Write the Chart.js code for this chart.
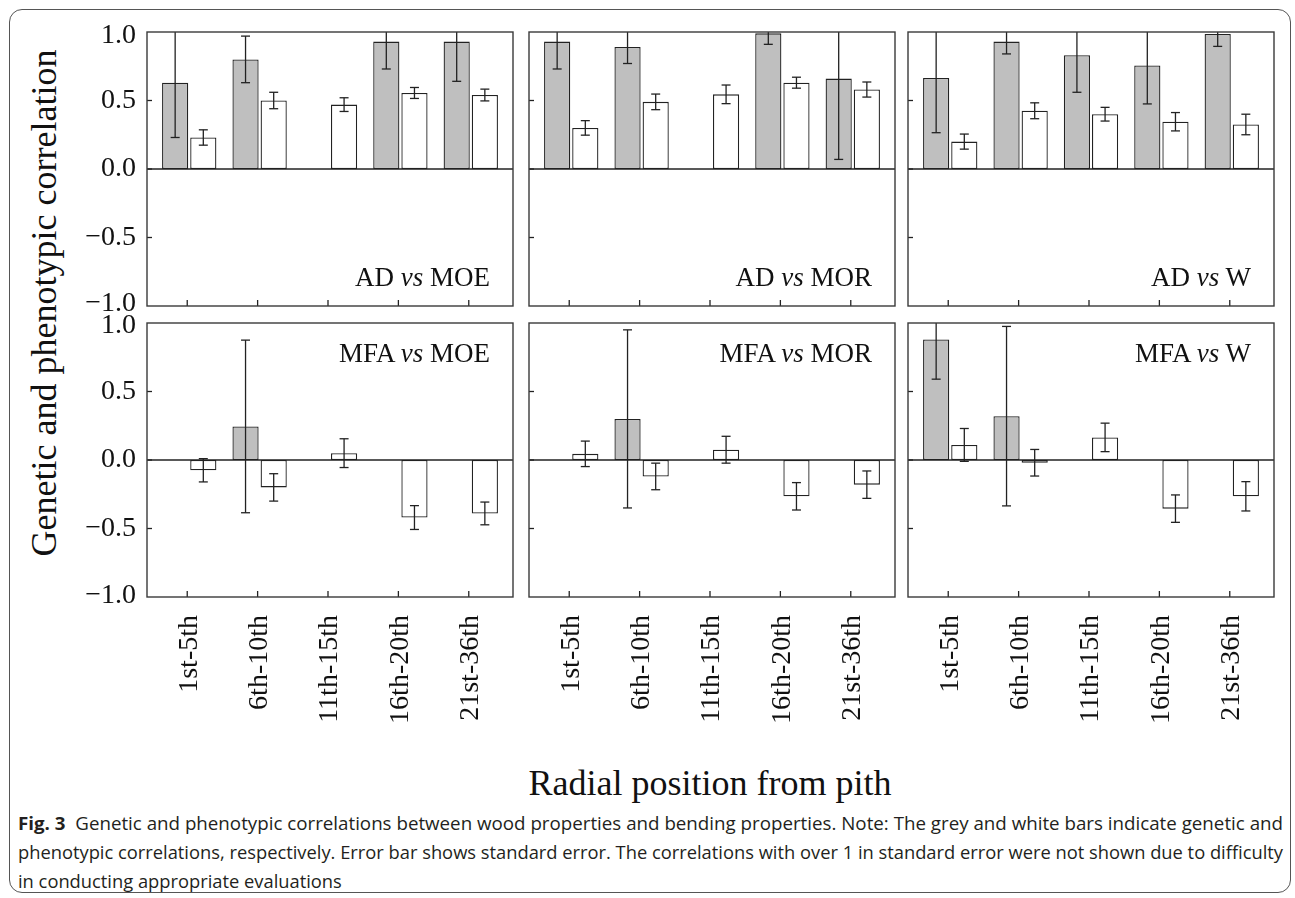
<!DOCTYPE html>
<html>
<head>
<meta charset="utf-8">
<script src="https://cdn.jsdelivr.net/npm/chart.js@4.4.0/dist/chart.umd.min.js"></script>
<style>
html, body { margin: 0; padding: 0; background: #fff; }
#page { position: relative; width: 1295px; height: 898px; overflow: hidden; }
#frame { position: absolute; left: 9px; top: 9px; width: 1280px; height: 882px; border: 1.5px solid #555; border-radius: 13px; }
canvas { position: absolute; }
.serif { position: absolute; font-family: 'Liberation Serif', 'Times New Roman', serif; color: #111; white-space: nowrap; line-height: 1; }
.lab { font-size: 27px; }
#ytitle { font-size: 36px; left: 44px; top: 303px; transform: translate(-50%, -50%) rotate(-90deg); }
#xtitle { font-size: 36px; left: 710px; top: 765px; transform: translateX(-50%); }
.cap { position: absolute; left: 18px; font-family: 'Open Sans', 'Liberation Sans', sans-serif; font-size: 18.5px; line-height: 29px; color: #231f20; white-space: nowrap; transform-origin: left center; }
</style>
</head>
<body>
<div id="page">
  <div id="frame"></div>
  <div id="ytitle" class="serif">Genetic and phenotypic correlation</div>
  <div id="xtitle" class="serif">Radial position from pith</div>
  <div class="cap" id="cap1" style="top:808px"><b>Fig. 3</b>&nbsp; Genetic and phenotypic correlations between wood properties and bending properties. Note: The grey and white bars indicate genetic and</div>
  <div class="cap" id="cap2" style="top:837px">phenotypic correlations, respectively. Error bar shows standard error. The correlations with over 1 in standard error were not shown due to difficulty</div>
  <div class="cap" id="cap3" style="top:866px">in conducting appropriate evaluations</div>
</div>
<script>
// ── Data ──────────────────────────────────────────────────────────
const CATEGORIES = ['1st-5th', '6th-10th', '11th-15th', '16th-20th', '21st-36th'];
const Y_TICKS = [-1.0, -0.5, 0.0, 0.5, 1.0];
const PANEL_LABELS = [['AD', 'MOE'], ['AD', 'MOR'], ['AD', 'W'], ['MFA', 'MOE'], ['MFA', 'MOR'], ['MFA', 'W']];

// grey bars = genetic, white bars = phenotypic; *_SE = standard error
const AD_MOE_GEN    = [0.63, 0.80, null, 0.93, 0.93];
const AD_MOE_GEN_SE = [0.40, 0.17, null, 0.20, 0.29];
const AD_MOE_PHE    = [0.23, 0.50, 0.47, 0.555, 0.54];
const AD_MOE_PHE_SE = [0.056, 0.06, 0.05, 0.04, 0.043];

const AD_MOR_GEN    = [0.93, 0.89, null, 0.99, 0.66];
const AD_MOR_GEN_SE = [0.20, 0.12, null, 0.08, 0.59];
const AD_MOR_PHE    = [0.30, 0.49, 0.545, 0.63, 0.58];
const AD_MOR_PHE_SE = [0.053, 0.057, 0.068, 0.04, 0.055];

const AD_W_GEN    = [0.665, 0.93, 0.83, 0.755, 0.985];
const AD_W_GEN_SE = [0.40, 0.09, 0.27, 0.28, 0.09];
const AD_W_PHE    = [0.20, 0.425, 0.40, 0.345, 0.325];
const AD_W_PHE_SE = [0.055, 0.058, 0.05, 0.067, 0.075];

const MFA_MOE_GEN    = [null, 0.245, null, null, null];
const MFA_MOE_GEN_SE = [null, 0.63, null, null, null];
const MFA_MOE_PHE    = [-0.075, -0.20, 0.05, -0.42, -0.39];
const MFA_MOE_PHE_SE = [0.085, 0.10, 0.105, 0.087, 0.083];

const MFA_MOR_GEN    = [null, 0.30, null, null, null];
const MFA_MOR_GEN_SE = [null, 0.65, null, null, null];
const MFA_MOR_PHE    = [0.045, -0.12, 0.075, -0.265, -0.18];
const MFA_MOR_PHE_SE = [0.093, 0.097, 0.098, 0.10, 0.10];

const MFA_W_GEN    = [0.88, 0.32, null, null, null];
const MFA_W_GEN_SE = [0.29, 0.655, null, null, null];
const MFA_W_PHE    = [0.11, -0.02, 0.165, -0.355, -0.265];
const MFA_W_PHE_SE = [0.12, 0.097, 0.104, 0.10, 0.107];

const GENETIC    = [AD_MOE_GEN, AD_MOR_GEN, AD_W_GEN, MFA_MOE_GEN, MFA_MOR_GEN, MFA_W_GEN];
const GENETIC_SE = [AD_MOE_GEN_SE, AD_MOR_GEN_SE, AD_W_GEN_SE, MFA_MOE_GEN_SE, MFA_MOR_GEN_SE, MFA_W_GEN_SE];
const PHENO      = [AD_MOE_PHE, AD_MOR_PHE, AD_W_PHE, MFA_MOE_PHE, MFA_MOR_PHE, MFA_W_PHE];
const PHENO_SE   = [AD_MOE_PHE_SE, AD_MOR_PHE_SE, AD_W_PHE_SE, MFA_MOE_PHE_SE, MFA_MOR_PHE_SE, MFA_W_PHE_SE];

// ── Layout ────────────────────────────────────────────────────────
const PANEL_LEFT = [147, 529, 908];
const PANEL_TOP = [32, 323];
const PANEL_W = 366, PANEL_H = 274;
const PAD = 20, Y_AXIS_W = 115, X_AXIS_H = 150;
const SERIF = "'Liberation Serif', 'Times New Roman', serif";
const INK = '#222';
const TICK_SIZE = 28;
// px nudge of the end labels (1.0 / -1.0) so the two rows don't collide
const EDGE_NUDGE = [{ '1': 4, '-1': -2 }, { '1': 3, '-1': -1 }];

// ── Frame, zero line, inward ticks, error bars ────────────────────
const panelDecor = {
    id: 'panelDecor',
    afterDatasetsDraw(chart) {
        const { ctx, chartArea: a, scales: { x, y } } = chart;
        ctx.save();
        ctx.strokeStyle = INK;
        ctx.lineWidth = 1.3;
        const line = (x1, y1, x2, y2) => { ctx.beginPath(); ctx.moveTo(x1, y1); ctx.lineTo(x2, y2); ctx.stroke(); };

        // error bars (clipped at the panel edge, no cap there)
        chart.data.datasets.forEach((ds, di) => {
            chart.getDatasetMeta(di).data.forEach((bar, i) => {
                const v = ds.data[i].y, se = ds.errors[i];
                if (v == null || se == null) return;
                const hi = y.getPixelForValue(v + se), lo = y.getPixelForValue(v - se);
                const top = Math.max(hi, a.top), bot = Math.min(lo, a.bottom);
                line(bar.x, top, bar.x, bot);
                if (hi >= a.top) line(bar.x - 4.5, hi, bar.x + 4.5, hi);
                if (lo <= a.bottom) line(bar.x - 4.5, lo, bar.x + 4.5, lo);
            });
        });

        // zero line
        const y0 = y.getPixelForValue(0);
        line(a.left, y0, a.right, y0);

        // inward tick marks
        Y_TICKS.forEach(t => {
            if (Math.abs(t) === 1) return;
            const py = y.getPixelForValue(t);
            line(a.left, py, a.left + 5, py);
        });
        CATEGORIES.forEach((c, i) => {
            const px = x.getPixelForValue(i + 1) - 2;
            line(px, a.bottom, px, a.bottom - 6);
        });

        // panel box
        ctx.strokeStyle = '#3a3a3a';
        ctx.lineWidth = 1.4;
        ctx.strokeRect(a.left, a.top, a.right - a.left, a.bottom - a.top);
        ctx.restore();
    }
};

function toPoints(values) {
    return values.map((v, i) => ({ x: i + 1, y: v }));
}

function yTickLabel(v, row) {
    const txt = Number(v).toFixed(1).replace('-', '\u2212');
    const n = EDGE_NUDGE[row][String(v)];
    if (!n) return txt;
    return n > 0 ? ['', txt] : [txt, ''];
}

function yTickFont(ctx, row) {
    const v = ctx.tick ? ctx.tick.value : 0;
    const n = EDGE_NUDGE[row][String(v)];
    return { family: SERIF, size: TICK_SIZE, lineHeight: n ? (2 * Math.abs(n)) / TICK_SIZE : 1.2 };
}

function buildPanel(idx) {
    const page = document.getElementById('page');
    const row = Math.floor(idx / 3), col = idx % 3;
    const L = col === 0 ? Y_AXIS_W : 0;
    const B = row === 1 ? X_AXIS_H : 0;
    const px = PANEL_LEFT[col], py = PANEL_TOP[row];
    const w = PANEL_W + 2 * PAD + L, h = PANEL_H + 2 * PAD + B;

    const cv = document.createElement('canvas');
    cv.width = w; cv.height = h;
    cv.style.left = (px - PAD - L) + 'px';
    cv.style.top = (py - PAD) + 'px';
    cv.style.width = w + 'px';
    cv.style.height = h + 'px';
    page.appendChild(cv);

    new Chart(cv.getContext('2d'), {
        type: 'bar',
        data: {
            datasets: [{
                label: 'Genetic',
                data: toPoints(GENETIC[idx]),
                errors: GENETIC_SE[idx],
                backgroundColor: '#bfbfbf',
                borderColor: INK, borderWidth: 1.3, borderSkipped: false
            }, {
                label: 'Phenotypic',
                data: toPoints(PHENO[idx]),
                errors: PHENO_SE[idx],
                backgroundColor: '#ffffff',
                borderColor: INK, borderWidth: 1.3, borderSkipped: false
            }]
        },
        options: {
            responsive: false,
            animation: false,
            categoryPercentage: 0.8,
            barPercentage: 0.93,
            layout: { padding: PAD },
            plugins: { legend: { display: false }, tooltip: { enabled: false } },
            scales: {
                x: {
                    type: 'linear', min: 0.4, max: 5.6, offset: false,
                    display: row === 1,
                    grid: { display: false, drawTicks: false },
                    border: { display: false },
                    afterBuildTicks: s => { s.ticks = CATEGORIES.map((c, i) => ({ value: i + 1 })); },
                    afterFit: s => { s.height = B; s.paddingLeft = 0; s.paddingRight = 0; },
                    ticks: {
                        autoSkip: false, minRotation: 90, maxRotation: 90, padding: 18,
                        color: '#111', font: { family: SERIF, size: TICK_SIZE },
                        callback: (v, i) => CATEGORIES[i]
                    }
                },
                y: {
                    min: -1, max: 1,
                    display: col === 0,
                    grid: { display: false, drawTicks: false },
                    border: { display: false },
                    afterBuildTicks: s => { s.ticks = Y_TICKS.map(v => ({ value: v })); },
                    afterFit: s => { s.width = L; s.paddingTop = 0; s.paddingBottom = 0; },
                    ticks: {
                        padding: 11,
                        color: '#111',
                        font: c => yTickFont(c, row),
                        callback: v => yTickLabel(v, row)
                    }
                }
            }
        },
        plugins: [panelDecor]
    });

    // panel label, e.g. "AD vs MOE"
    const [a, b] = PANEL_LABELS[idx];
    const lab = document.createElement('div');
    lab.className = 'serif lab';
    lab.innerHTML = `${a} <i>vs</i> ${b}`;
    lab.style.right = (1295 - (px + PANEL_W - 23)) + 'px';
    lab.style.top = (row === 0 ? py + PANEL_H - 42 : py + 17) + 'px';
    page.appendChild(lab);
}

for (let i = 0; i < 6; i++) buildPanel(i);

// ── Caption: squeeze lines to the printed width ───────────────────
const widthOf = id => document.getElementById(id).getBoundingClientRect().width;
const s1 = 1265 / widthOf('cap1');
const s2 = 1265 / widthOf('cap2');
document.getElementById('cap1').style.transform = `scaleX(${s1})`;
document.getElementById('cap2').style.transform = `scaleX(${s2})`;
document.getElementById('cap3').style.transform = `scaleX(${s2})`;
</script>
</body>
</html>
